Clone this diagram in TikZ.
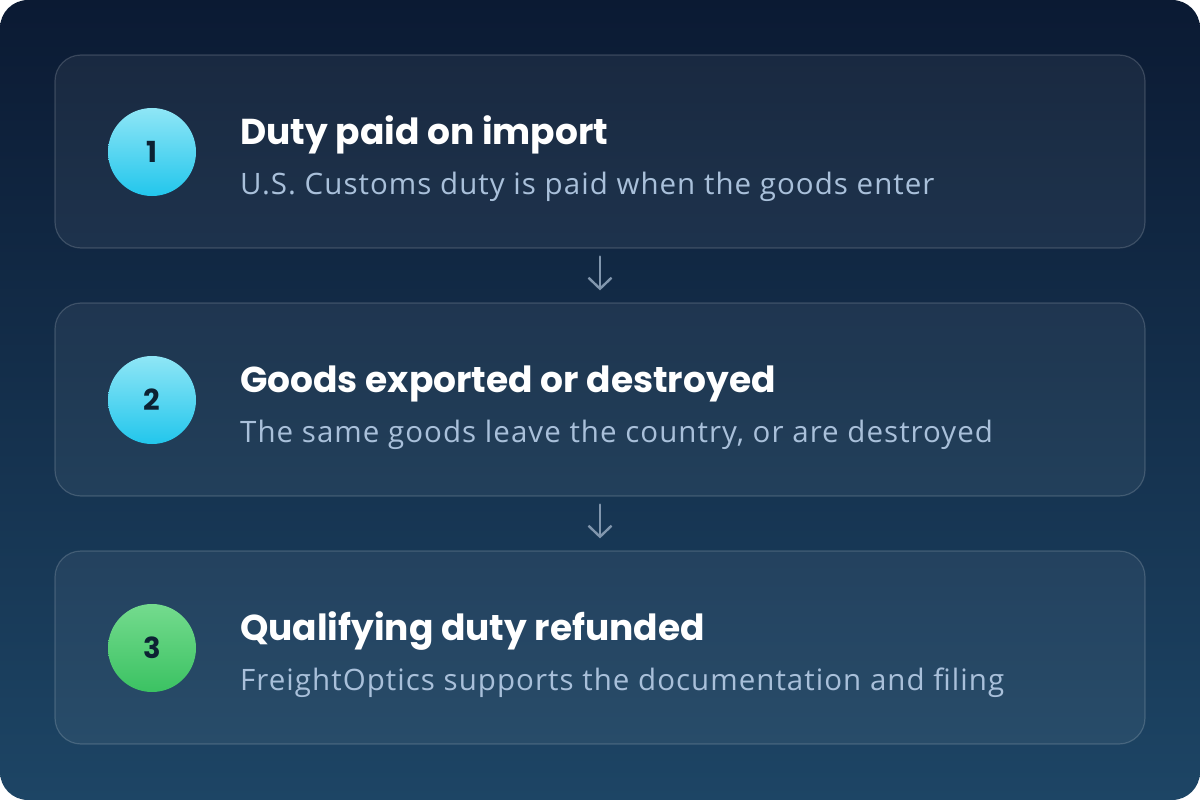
\documentclass[tikz,border=0pt]{standalone}
\usepackage{fontspec}
\setmainfont{Open Sans}
\newfontfamily\titlefont{Poppins}
\newfontfamily\subfont[LetterSpace=3.5]{Open Sans}
\usetikzlibrary{arrows.meta,shapes.geometric}
\definecolor{bgtop}{HTML}{0B1A33}
\definecolor{bgbot}{HTML}{1D4565}
\definecolor{subtxt}{HTML}{A9C0DA}
\definecolor{numtxt}{HTML}{0C2233}
\definecolor{cyantop}{HTML}{8FE6F6}
\definecolor{cyanbot}{HTML}{22C6EC}
\definecolor{greentop}{HTML}{74DB8E}
\definecolor{greenbot}{HTML}{3BC262}
\definecolor{arrowc}{HTML}{8196AD}
\tikzset{
  card/.style={draw=white, draw opacity=0.16, fill=white, fill opacity=0.055, line width=1.2bp,
    rounded corners=26bp, minimum width=1090bp, minimum height=193bp, inner sep=0pt},
  badge/.style={circle, minimum size=88bp, inner sep=0pt, text=numtxt,
    font=\titlefont\bfseries\fontsize{29bp}{29bp}\selectfont},
  cyanbadge/.style={badge, top color=cyantop, bottom color=cyanbot},
  greenbadge/.style={badge, top color=greentop, bottom color=greenbot},
  ttl/.style={anchor=base west, inner sep=0pt, text=white,
    font=\titlefont\bfseries\fontsize{36bp}{36bp}\selectfont},
  sub/.style={anchor=base west, inner sep=0pt, text=subtxt,
    font=\subfont\fontsize{29.5bp}{29.5bp}\selectfont},
  flow/.style={draw=arrowc, line width=2.4bp, line cap=round,
    -{Straight Barb[length=11bp,width=23bp,line width=2.4bp]}},
}
\begin{document}
\begin{tikzpicture}[x=1bp,y=-1bp]
\useasboundingbox (0,0) rectangle (1200,800);
\fill[white] (0,0) rectangle (1200,800);
\begin{scope}
\clip[rounded corners=28bp] (0,0) rectangle (1200,800);
\shade[top color=bgtop, bottom color=bgbot] (0,0) rectangle (1200,800);
\end{scope}
% cards
\node[card] (c1) at (600,151.5) {};
\node[card] (c2) at (600,399.5) {};
\node[card] (c3) at (600,647.5) {};
% badges
\node[cyanbadge] (b1) at (152,152) {1};
\node[cyanbadge] (b2) at (152,400) {2};
\node[greenbadge] (b3) at (152,648) {3};
% texts
\node[ttl] (t1) at (240,144) {Duty paid on import};
\node[sub] (s1) at (240,194) {U.S. Customs duty is paid when the goods enter};
\node[ttl] (t2) at (240,392) {Goods exported or destroyed};
\node[sub] (s2) at (240,442) {The same goods leave the country, or are destroyed};
\node[ttl] (t3) at (240,640) {Qualifying duty refunded};
\node[sub] (s3) at (240,690) {FreightOptics supports the documentation and filing};
% arrows
\draw[flow, shorten <=8bp, shorten >=12bp] (c1.south) -- (c2.north);
\draw[flow, shorten <=8bp, shorten >=12bp] (c2.south) -- (c3.north);
\end{tikzpicture}
\end{document}
